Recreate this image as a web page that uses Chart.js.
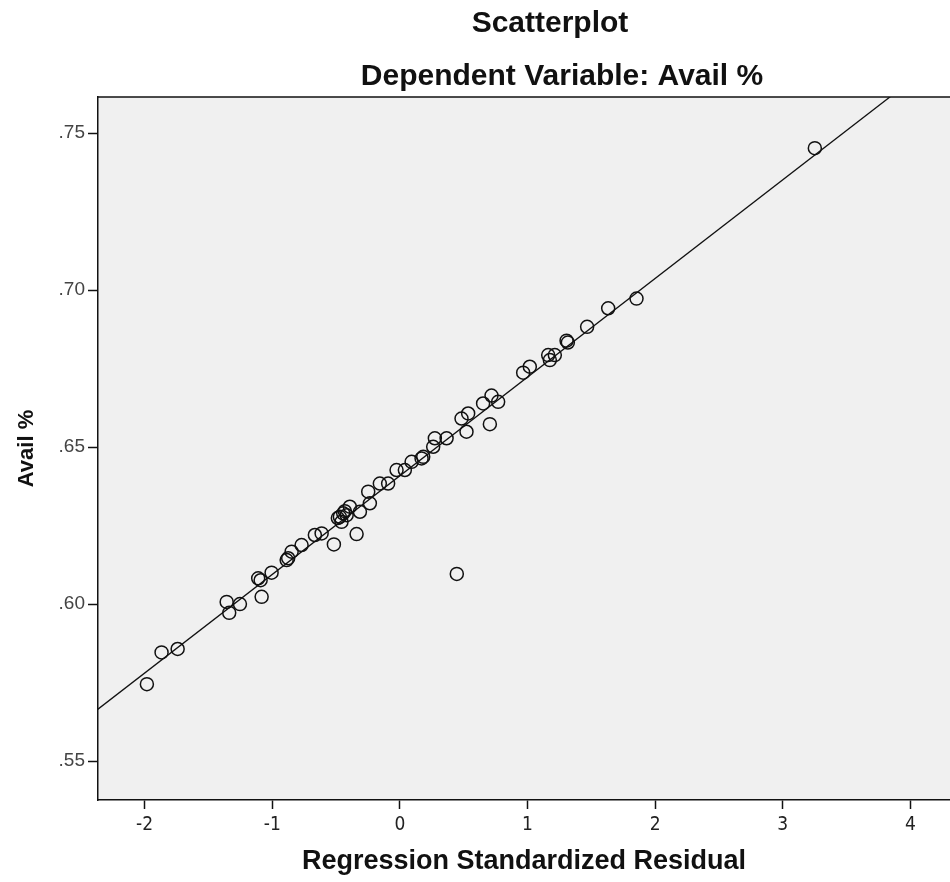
<!DOCTYPE html>
<html><head><meta charset="utf-8">
<script src="https://cdn.jsdelivr.net/npm/chart.js@4"></script>
<style>html,body{margin:0;padding:0;background:#fff}#wrap{width:950px;height:882px}</style>
</head><body><div id="wrap"><canvas id="c" width="950" height="882"></canvas></div>
<script>
// ---- data ----
const residuals = [-1.982,-1.867,-1.741,-1.357,-1.337,-1.253,-1.083,-1.110,-1.091,-1.005,-0.887,-0.875,-0.848,-0.770,-0.666,-0.613,-0.517,-0.470,-0.444,-0.457,-0.417,-0.392,-0.313,-0.339,-0.235,-0.248,-0.157,-0.092,-0.026,0.039,0.092,0.170,0.183,0.261,0.274,0.366,0.483,0.535,0.522,0.652,0.718,0.770,0.705,0.446,0.966,1.018,1.162,1.175,1.214,1.306,1.316,1.467,1.632,1.854,3.251,-0.486,-0.431];
const availPct = [0.5745,0.5846,0.5857,0.6007,0.5972,0.6000,0.6023,0.6082,0.6076,0.6100,0.6140,0.6146,0.6167,0.6188,0.6220,0.6225,0.6190,0.6278,0.6289,0.6262,0.6283,0.6310,0.6294,0.6223,0.6321,0.6358,0.6384,0.6384,0.6427,0.6427,0.6453,0.6464,0.6469,0.6501,0.6528,0.6528,0.6591,0.6607,0.6549,0.6639,0.6664,0.6644,0.6573,0.6096,0.6737,0.6756,0.6793,0.6777,0.6793,0.6839,0.6833,0.6883,0.6942,0.6973,0.7452,0.6274,0.6296];
const fitLineX = [-2.37, 4.31];
const fitLineY = [0.5664, 0.7763];
const xTickValues = [-2,-1,0,1,2,3,4];
const yTickValues = [0.55,0.60,0.65,0.70,0.75];
const chartTitle = 'Scatterplot';
const chartSubtitle = 'Dependent Variable: Avail %';
const xAxisTitle = 'Regression Standardized Residual';
const yAxisTitle = 'Avail %';

const points = residuals.map((x,i)=>({x:x, y:availPct[i]}));
const fitLine = fitLineX.map((x,i)=>({x:x, y:fitLineY[i]}));

const decor = {
  id:'decor',
  beforeDraw(chart){
    const {ctx, chartArea:a} = chart;
    ctx.save();
    ctx.fillStyle = '#f0f0f0';
    ctx.fillRect(a.left, a.top, a.right-a.left, a.bottom-a.top);
    ctx.restore();
  },
  afterDraw(chart){
    const {ctx, chartArea:a} = chart;
    ctx.save();
    ctx.strokeStyle = '#111';
    ctx.lineWidth = 1.5;
    ctx.beginPath();
    ctx.moveTo(a.left, a.top); ctx.lineTo(a.right, a.top);
    ctx.stroke();
    ctx.fillStyle = '#111';
    ctx.textAlign = 'center';
    ctx.textBaseline = 'middle';
    ctx.font = 'bold 30px "Liberation Sans", Arial, sans-serif';
    ctx.fillText(chartTitle, 550, 24);
    ctx.fillText(chartSubtitle, 562, 77);
    ctx.restore();
  }
};

new Chart(document.getElementById('c'), {
  type:'scatter',
  data:{datasets:[
    {type:'line', data:fitLine, borderColor:'#111', borderWidth:1.3, pointRadius:0, fill:false, showLine:true, order:2},
    {data:points, pointStyle:'circle', pointRadius:6.5, borderColor:'#111', borderWidth:1.5, backgroundColor:'rgba(0,0,0,0)', pointHoverRadius:6.5, order:1}
  ]},
  options:{
    responsive:false, animation:false,
    layout:{autoPadding:false, padding:{top:97,left:0,right:0,bottom:0}},
    plugins:{legend:{display:false}, tooltip:{enabled:false}, title:{display:false}},
    scales:{
      x:{type:'linear', min:-2.365, max:4.31,
        afterBuildTicks(s){ s.ticks = xTickValues.map(v=>({value:v})); },
        afterFit(s){ s.height = 82; s.paddingLeft = 0; s.paddingRight = 0; },
        grid:{display:true, drawOnChartArea:false, drawTicks:true, tickLength:9, tickColor:'#111', tickWidth:1.5},
        border:{display:true, color:'#111', width:1.5},
        ticks:{color:'#222', padding:5, font:{family:'"Liberation Sans Narrow", "DejaVu Sans Condensed", sans-serif', size:19}, callback:v=>String(v), maxRotation:0},
        title:{display:true, text:xAxisTitle, color:'#111', padding:{top:0,bottom:4}, font:{family:'"Liberation Sans", Arial, sans-serif', size:27, weight:'bold'}}
      },
      y:{type:'linear', min:0.5376, max:0.7615,
        afterBuildTicks(s){ s.ticks = yTickValues.map(v=>({value:v})); },
        afterFit(s){ s.width = 98; s.paddingTop = 0; s.paddingBottom = 0; },
        grid:{display:true, drawOnChartArea:false, drawTicks:true, tickLength:10, tickColor:'#111', tickWidth:1.5},
        border:{display:true, color:'#111', width:1.5},
        ticks:{color:'#444', padding:3, font:{family:'"Liberation Sans", Arial, sans-serif', size:19}, callback:v=>v.toFixed(2).replace(/^0/,'')},
        title:{display:true, text:yAxisTitle, color:'#111', padding:{top:14,bottom:0}, font:{family:'"Liberation Sans", Arial, sans-serif', size:22, weight:'bold'}}
      }
    }
  },
  plugins:[decor]
});
</script>
</body></html>
